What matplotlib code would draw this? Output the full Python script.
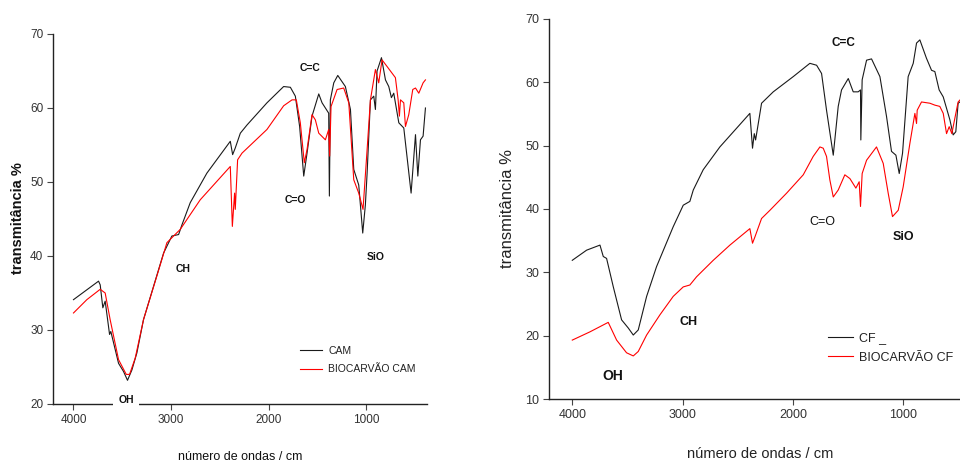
import matplotlib
matplotlib.use("Agg")
import matplotlib.pyplot as plt

# ---------------- data (left panel) ----------------
cam_wn = [4000, 3743, 3726, 3699, 3675, 3630, 3617, 3538, 3487, 3446, 3401, 3350, 3282, 3179,
          3076, 2991, 2922, 2888, 2803, 2632, 2392, 2368, 2341, 2289, 2221, 2016, 1845, 1776,
          1725, 1681, 1639, 1605, 1554, 1485, 1451, 1383, 1376, 1366, 1331, 1290, 1212, 1160,
          1126, 1075, 1034, 1007, 989, 955, 921, 904, 887, 842, 801, 767, 740, 716, 664, 613,
          538, 493, 469, 442, 415, 391]
cam_t = [34.1, 36.6, 36.1, 33.0, 33.9, 29.4, 29.8, 25.5, 24.4, 23.2, 24.6, 26.9, 31.4, 35.9,
         40.4, 42.7, 42.9, 44.2, 47.2, 51.2, 55.5, 53.7, 54.6, 56.6, 57.7, 60.7, 62.9, 62.8,
         61.6, 57.5, 50.8, 53.9, 58.9, 61.9, 60.7, 59.3, 48.1, 61.1, 63.4, 64.4, 62.9, 59.8,
         51.7, 49.6, 43.1, 46.9, 51.2, 61.1, 61.6, 59.8, 65.0, 66.8, 63.8, 62.9, 61.4, 62.0,
         58.0, 57.3, 48.5, 56.4, 50.8, 55.7, 56.2, 60.0]

bcam_wn = [4000, 3863, 3726, 3675, 3624, 3538, 3459, 3425, 3367, 3282, 3145, 3042, 2905, 2700,
           2392, 2371, 2348, 2341, 2317, 2272, 2016, 1845, 1759, 1715, 1674, 1633, 1605, 1554,
           1520, 1485, 1417, 1383, 1373, 1359, 1297, 1229, 1177, 1126, 1075, 1031, 989, 955,
           904, 870, 836, 784, 699, 671, 658, 647, 613, 596, 562, 521, 493, 459, 415, 391]
bcam_t = [32.3, 34.1, 35.5, 35.0, 31.4, 26.0, 24.0, 24.0, 26.2, 31.4, 37.3, 41.8, 43.6, 47.6,
          52.1, 44.0, 48.5, 46.3, 53.0, 53.9, 57.1, 60.3, 61.1, 61.1, 58.0, 52.6, 54.4, 59.1,
          58.4, 56.6, 55.7, 57.1, 53.5, 60.2, 62.5, 62.7, 60.7, 50.3, 48.5, 46.3, 54.4, 61.1,
          65.2, 63.4, 66.5, 65.6, 64.1, 61.1, 58.9, 61.1, 60.7, 57.5, 59.1, 62.5, 62.7, 62.0,
          63.4, 63.8]

# ---------------- data (right panel) ----------------
cf_wn = [4000, 3870, 3749, 3719, 3689, 3628, 3553, 3492, 3447, 3402, 3326, 3236, 3085, 2994,
         2934, 2903, 2813, 2662, 2390, 2366, 2350, 2338, 2284, 2178, 1997, 1846, 1785, 1740,
         1695, 1634, 1589, 1559, 1498, 1453, 1408, 1387, 1384, 1372, 1332, 1287, 1211, 1151,
         1106, 1066, 1036, 1006, 955, 909, 879, 849, 789, 743, 713, 674, 637, 577, 547, 523,
         502, 486]
cf_t = [31.9, 33.5, 34.3, 32.5, 32.2, 27.7, 22.5, 21.2, 20.1, 20.9, 26.2, 30.9, 37.2, 40.6,
        41.2, 43.0, 46.2, 49.8, 55.1, 49.6, 51.9, 50.9, 56.7, 58.5, 60.9, 63.0, 62.7, 61.4,
        55.6, 48.5, 56.2, 58.8, 60.6, 58.5, 58.5, 58.8, 50.9, 60.4, 63.5, 63.7, 60.9, 54.6,
        49.1, 48.5, 45.6, 48.8, 60.9, 63.0, 66.2, 66.7, 63.8, 61.9, 61.7, 58.8, 57.7, 54.1,
        51.7, 52.2, 56.7, 56.9]

bcf_wn = [4000, 3840, 3674, 3598, 3508, 3447, 3402, 3326, 3205, 3085, 2994, 2934, 2873, 2722,
          2571, 2390, 2366, 2344, 2284, 2208, 2057, 1906, 1816, 1755, 1725, 1695, 1665, 1634,
          1589, 1529, 1483, 1429, 1399, 1387, 1372, 1332, 1242, 1181, 1136, 1097, 1045, 1000,
          939, 894, 879, 873, 834, 758, 713, 668, 637, 607, 583, 559, 532, 502, 486]
bcf_t = [19.3, 20.6, 22.1, 19.3, 17.3, 16.8, 17.5, 20.1, 23.3, 26.2, 27.7, 28.0, 29.3, 31.9,
         34.3, 36.9, 34.6, 35.6, 38.5, 39.8, 42.5, 45.4, 48.3, 49.8, 49.6, 48.3, 44.6, 41.9,
         43.0, 45.4, 44.8, 43.3, 44.3, 40.4, 45.6, 47.7, 49.8, 47.2, 42.5, 38.8, 39.8, 43.5,
         50.4, 55.1, 53.5, 55.6, 56.9, 56.7, 56.4, 56.2, 55.1, 51.9, 53.0, 51.9, 54.3, 56.9,
         57.2]

x_ticks = [4000, 3000, 2000, 1000]
left_y_ticks = [20, 30, 40, 50, 60, 70]
right_y_ticks = [10, 20, 30, 40, 50, 60, 70]

left_labels = ["CAM", "BIOCARVÃO CAM"]
right_labels = ["CF _", "BIOCARVÃO CF"]

NARROW = ["Liberation Sans Narrow", "Liberation Sans", "DejaVu Sans"]
BOLDF = ["Liberation Sans Narrow", "Liberation Sans", "DejaVu Sans"]

BLACK = "#1a1a1a"
RED = "#ff0000"
TICKC = "#333333"

fig = plt.figure(figsize=(9.6, 4.63), dpi=100)

axL = fig.add_axes([53/960, 1-404/463, (427-53)/960, (404-34)/463])
axR = fig.add_axes([549/960, 1-399/463, (960-549)/960, (399-19)/463])


def style(ax, yticks, ylim, xlim, fs):
    ax.set_xlim(*xlim)
    ax.set_ylim(*ylim)
    ax.set_xticks(x_ticks)
    ax.set_yticks(yticks)
    for s in ("top", "right"):
        ax.spines[s].set_visible(False)
    for s in ("left", "bottom"):
        ax.spines[s].set_linewidth(1.0)
        ax.spines[s].set_color("#222222")
    ax.tick_params(direction="out", length=4, width=0.8, colors="#444444",
                   labelcolor=TICKC, labelsize=fs, pad=3)
    for lab in ax.get_xticklabels() + ax.get_yticklabels():
        lab.set_family(NARROW)


# ---------- left ----------
axL.plot(cam_wn, cam_t, color=BLACK, lw=0.8, label=left_labels[0])
axL.plot(bcam_wn, bcam_t, color=RED, lw=0.8, label=left_labels[1])
style(axL, left_y_ticks, (20, 70), (4210, 375), 8.5)
fig.text(18/960, 1-218/463, "transmitância %", family=NARROW, fontsize=10.5,
         fontweight="bold", color="#111111", rotation=90, ha="center", va="center")
fig.text(240/960, 1-457/463, "número de ondas / cm", family=NARROW, fontsize=9,
         color="#111111", ha="center", va="center")

ann_kw = dict(family=BOLDF, fontweight="bold", color="#111111", ha="center", va="center")
axL.text(1572, 65.4, "C=C", fontsize=7.5, **ann_kw)
axL.text(1730, 47.6, "C=O", fontsize=7.5, **ann_kw)
axL.text(2877, 38.2, "CH", fontsize=7.5, **ann_kw)
axL.text(3460, 20.6, "OH", fontsize=7.5, zorder=5,
         bbox=dict(facecolor="white", edgecolor="none", pad=4), clip_on=False, **ann_kw)
axL.text(898, 39.9, "SiO", fontsize=7.5, **ann_kw)

legL = axL.legend(loc="center left", bbox_to_anchor=(300/960, 1-360/463),
                  bbox_transform=fig.transFigure, frameon=False, handlelength=2.1,
                  handletextpad=0.6, labelspacing=0.8, borderpad=0, borderaxespad=0,
                  prop=dict(family=NARROW, size=7.5))
for t in legL.get_texts():
    t.set_color("#222222")

# ---------- right ----------
axR.plot(cf_wn, cf_t, color=BLACK, lw=0.8, label=right_labels[0])
axR.plot(bcf_wn, bcf_t, color=RED, lw=0.8, label=right_labels[1])
style(axR, right_y_ticks, (10, 70), (4211, 485), 9)
fig.text(508/960, 1-209/463, "transmitância %", family=NARROW, fontsize=12,
         color="#222222", rotation=90, ha="center", va="center")
fig.text(760/960, 1-454/463, "número de ondas / cm", family=NARROW, fontsize=10.5,
         color="#222222", ha="center", va="center")

axR.text(1546, 66.2, "C=C", fontsize=8.5, **ann_kw)
axR.text(1729, 37.9, "C=O", fontsize=9, family=NARROW, color="#111111",
         ha="center", va="center")
axR.text(2945, 22.1, "CH", fontsize=9, **ann_kw)
axR.text(3632, 13.6, "OH", fontsize=10, **ann_kw)
axR.text(1000, 35.6, "SiO", fontsize=9, **ann_kw)

legR = axR.legend(loc="center left", bbox_to_anchor=(828/960, 1-348/463),
                  bbox_transform=fig.transFigure, frameon=False, handlelength=2.0,
                  handletextpad=0.5, labelspacing=0.6, borderpad=0, borderaxespad=0,
                  prop=dict(family=NARROW, size=9))
for t in legR.get_texts():
    t.set_color("#222222")

fig.savefig("out.png", dpi=100)
